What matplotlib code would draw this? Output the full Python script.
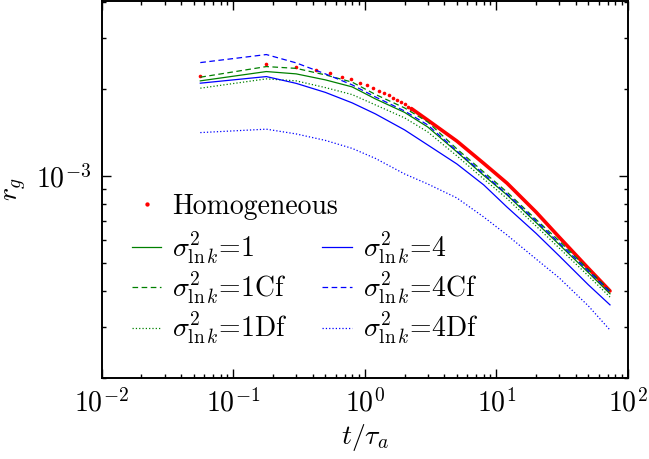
import numpy as np
import matplotlib
matplotlib.use('Agg')
import matplotlib.pyplot as plt
from matplotlib.ticker import NullFormatter, LogLocator

plt.rcParams['font.family'] = 'serif'
plt.rcParams['font.serif'] = ['cmr10']
plt.rcParams['mathtext.fontset'] = 'cm'
plt.rcParams['axes.formatter.use_mathtext'] = True
plt.rcParams['axes.unicode_minus'] = True

# homogeneous case: separate samples at early times ...
t_hom = [0.056, 0.178, 0.300, 0.422, 0.544, 0.667, 0.789, 0.911, 1.033, 1.155,
         1.278, 1.400, 1.522, 1.644, 1.766, 1.888, 2.011, 2.133, 2.255]
r_hom = [2.218e-3, 2.441e-3, 2.389e-3, 2.327e-3, 2.267e-3, 2.206e-3, 2.161e-3,
         2.103e-3, 2.060e-3, 2.011e-3, 1.973e-3, 1.937e-3, 1.902e-3, 1.866e-3,
         1.832e-3, 1.799e-3, 1.770e-3, 1.737e-3, 1.710e-3]
# ... and where the samples run together into a band
t_hom_late = [2.255, 3, 5, 8, 12, 20, 30, 50, 73]
r_hom_late = [1.710e-3, 1.560e-3, 1.320e-3, 1.105e-3, 0.945e-3, 0.750e-3,
              0.614e-3, 0.479e-3, 0.400e-3]

# heterogeneous cases (units of 1e-3)
t = [0.056, 0.178, 0.3, 0.5, 0.8, 1.2, 2, 3, 5, 8, 12, 20, 30, 50, 73]
r_s1 = [2.132, 2.296, 2.254, 2.149, 2.032, 1.847, 1.659, 1.477, 1.211, 1.004,
        0.860, 0.690, 0.579, 0.463, 0.391]
r_s1cf = [2.195, 2.389, 2.355, 2.236, 2.110, 1.914, 1.719, 1.538, 1.240, 1.032,
          0.880, 0.707, 0.596, 0.475, 0.400]
r_s1df = [2.011, 2.166, 2.132, 2.021, 1.911, 1.761, 1.588, 1.420, 1.173, 0.976,
          0.836, 0.671, 0.563, 0.451, 0.381]
r_s4 = [2.093, 2.206, 2.090, 1.945, 1.789, 1.639, 1.443, 1.280, 1.100, 0.931,
        0.781, 0.633, 0.529, 0.420, 0.358]
r_s4cf = [2.466, 2.629, 2.460, 2.254, 2.065, 1.876, 1.678, 1.501, 1.220, 1.016,
          0.866, 0.699, 0.586, 0.469, 0.397]
r_s4df = [1.412, 1.451, 1.397, 1.327, 1.245, 1.150, 1.016, 0.938, 0.839, 0.721,
          0.625, 0.516, 0.444, 0.355, 0.293]

lab = r'$\sigma^2_{\ln k}$'

fig = plt.figure(figsize=(6.49, 4.59), dpi=100)
ax = fig.add_axes([0.157, 0.1765, 0.9676 - 0.157, 0.998 - 0.1765])

h_hom, = ax.plot(t_hom, r_hom, 'o', color='red', ms=2.6, mew=0, label='Homogeneous')
ax.plot(t_hom_late, r_hom_late, '-', color='red', lw=2.6, solid_capstyle='round')

dash = (4.5, 2.8)
sc = 1e-3
l1, = ax.plot(t, np.array(r_s1) * sc, '-', color='green', lw=0.9, label=lab + '=1')
l1c, = ax.plot(t, np.array(r_s1cf) * sc, '--', color='green', lw=0.9, dashes=dash, label=lab + '=1Cf')
l1d, = ax.plot(t, np.array(r_s1df) * sc, ':', color='green', lw=0.9, label=lab + '=1Df')
l4, = ax.plot(t, np.array(r_s4) * sc, '-', color='blue', lw=0.9, label=lab + '=4')
l4c, = ax.plot(t, np.array(r_s4cf) * sc, '--', color='blue', lw=0.9, dashes=dash, label=lab + '=4Cf')
l4d, = ax.plot(t, np.array(r_s4df) * sc, ':', color='blue', lw=0.9, label=lab + '=4Df')

ax.set_xscale('log')
ax.set_yscale('log')
ax.set_xlim(1e-2, 1e2)
ax.set_ylim(2.0e-4, 4.03e-3)
ax.yaxis.set_minor_formatter(NullFormatter())
ax.yaxis.set_minor_locator(LogLocator(base=10, subs=np.arange(2, 10)))
ax.xaxis.set_minor_locator(LogLocator(base=10, subs=np.arange(2, 10)))

ax.tick_params(which='both', direction='in', top=True, right=True, labelsize=20, width=1.0)
ax.tick_params(which='major', length=6.5, pad=8)
ax.tick_params(which='minor', length=3)
for s in ax.spines.values():
    s.set_linewidth(1.4)

ax.set_xlabel(r'$t/\tau_a$', fontsize=20, labelpad=3)
ax.set_ylabel(r'$r_g$', fontsize=20, labelpad=5)

fig.legend(handles=[h_hom], loc='upper left', bbox_to_anchor=(0.203, 0.578),
           frameon=False, fontsize=20, handlelength=1.07, handletextpad=0.39,
           borderpad=0, borderaxespad=0, numpoints=1, markerscale=1.2)
fig.legend(handles=[l1, l1c, l1d, l4, l4c, l4d], ncol=2, loc='upper left',
           bbox_to_anchor=(0.203, 0.500), frameon=False, fontsize=20,
           handlelength=1.07, handletextpad=0.39, columnspacing=1.25,
           labelspacing=0.15, borderpad=0, borderaxespad=0)

fig.savefig('out.png', dpi=100)
